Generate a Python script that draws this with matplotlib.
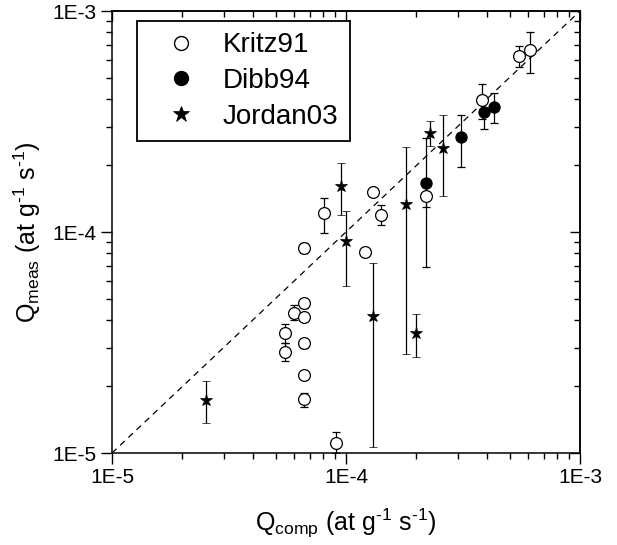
import numpy as np
import matplotlib
matplotlib.use("Agg")
import matplotlib.pyplot as plt
from matplotlib.lines import Line2D
from matplotlib.ticker import LogLocator, NullFormatter, FixedLocator, FixedFormatter

plt.rcParams['font.family'] = ['Liberation Sans', 'DejaVu Sans']
plt.rcParams['mathtext.default'] = 'regular'

# Kritz91 (open circles): Q_comp, Q_meas, lower / upper error bar ends
kritz_x = [5.50e-4, 6.11e-4, 3.80e-4, 2.20e-4, 1.30e-4, 1.41e-4, 8.05e-5, 1.20e-4,
           6.61e-5, 6.61e-5, 6.01e-5, 6.61e-5, 5.49e-5, 5.49e-5, 6.61e-5, 6.61e-5,
           6.61e-5, 9.06e-5]
kritz_y = [6.28e-4, 6.66e-4, 3.96e-4, 1.46e-4, 1.51e-4, 1.20e-4, 1.215e-4, 8.09e-5,
           8.49e-5, 4.76e-5, 4.31e-5, 4.11e-5, 3.48e-5, 2.86e-5, 3.14e-5, 2.25e-5,
           1.75e-5, 1.11e-5]
kritz_lo = [5.60e-4, 5.26e-4, 3.25e-4, 1.30e-4, 1.46e-4, 1.08e-4, 9.87e-5, 8.09e-5,
            8.00e-5, 4.55e-5, 4.00e-5, 4.11e-5, 3.15e-5, 2.61e-5, 3.00e-5, 2.25e-5,
            1.61e-5, 1.00e-5]
kritz_hi = [6.97e-4, 8.06e-4, 4.66e-4, 1.63e-4, 1.56e-4, 1.32e-4, 1.43e-4, 8.09e-5,
            8.95e-5, 4.98e-5, 4.67e-5, 4.11e-5, 3.84e-5, 3.13e-5, 3.28e-5, 2.25e-5,
            1.87e-5, 1.24e-5]

# Dibb94 (filled circles)
dibb_x = [3.89e-4, 4.29e-4, 3.10e-4, 2.20e-4]
dibb_y = [3.48e-4, 3.69e-4, 2.68e-4, 1.67e-4]
dibb_lo = [2.92e-4, 3.12e-4, 1.97e-4, 6.97e-5]
dibb_hi = [4.03e-4, 4.25e-4, 3.38e-4, 2.65e-4]

# Jordan03 (stars)
jordan_x = [2.29e-4, 2.61e-4, 1.80e-4, 2.00e-4, 1.30e-4, 9.52e-5, 1.00e-4, 2.53e-5]
jordan_y = [2.81e-4, 2.41e-4, 1.34e-4, 3.49e-5, 4.18e-5, 1.62e-4, 9.13e-5, 1.74e-5]
jordan_lo = [2.45e-4, 1.45e-4, 2.80e-5, 2.73e-5, 1.06e-5, 1.19e-4, 5.71e-5, 1.37e-5]
jordan_hi = [3.19e-4, 3.38e-4, 2.43e-4, 4.24e-5, 7.26e-5, 2.06e-4, 1.245e-4, 2.11e-5]

fig = plt.figure(figsize=(6.17, 5.45), dpi=100)
ax = fig.add_axes([0.1815, 0.1688, 0.7585, 0.811])


def yerr(y, lo, hi):
    y = np.array(y)
    return [y - np.array(lo), np.array(hi) - y]


# 1:1 line
ax.plot([1e-5, 1e-3], [1e-5, 1e-3], color='black', ls=(0, (5, 4)), lw=0.9, zorder=1)

common = dict(ls='none', ecolor='black', elinewidth=0.9, capsize=2.6, capthick=0.9,
              zorder=3)
ax.errorbar(kritz_x, kritz_y, yerr=yerr(kritz_y, kritz_lo, kritz_hi), marker='o',
            ms=8.5, mfc='white', mec='black', mew=0.9, **common)
ax.errorbar(dibb_x, dibb_y, yerr=yerr(dibb_y, dibb_lo, dibb_hi), marker='o',
            ms=8, mfc='black', mec='black', mew=0.9, **common)
ax.errorbar(jordan_x, jordan_y, yerr=yerr(jordan_y, jordan_lo, jordan_hi), marker='*',
            ms=9.5, mfc='black', mec='black', mew=0.5, **common)

ax.set_xscale('log')
ax.set_yscale('log')
ax.set_xlim(1e-5, 1e-3)
ax.set_ylim(1e-5, 1e-3)

ticks = [1e-5, 1e-4, 1e-3]
labels = ['1E-5', '1E-4', '1E-3']
for axis in (ax.xaxis, ax.yaxis):
    axis.set_major_locator(FixedLocator(ticks))
    axis.set_major_formatter(FixedFormatter(labels))
    axis.set_minor_locator(LogLocator(base=10, subs=np.arange(2, 10)))
    axis.set_minor_formatter(NullFormatter())

ax.tick_params(which='both', direction='out', labelsize=15, width=1.0, color='black')
ax.tick_params(which='major', length=8, pad=3)
ax.tick_params(which='minor', length=4.5)

# inward ticks on top and right
for side in ('top', 'right'):
    if side == 'top':
        sec = ax.secondary_xaxis('top')
        sax = sec.xaxis
    else:
        sec = ax.secondary_yaxis('right')
        sax = sec.yaxis
    sax.set_major_locator(FixedLocator(ticks))
    sax.set_major_formatter(NullFormatter())
    sax.set_minor_locator(LogLocator(base=10, subs=np.arange(2, 10)))
    sax.set_minor_formatter(NullFormatter())
    sec.tick_params(which='both', direction='in', width=1.0)
    sec.tick_params(which='major', length=7)
    sec.tick_params(which='minor', length=4)
    sec.spines[side].set_linewidth(1.1)

for s in ax.spines.values():
    s.set_linewidth(1.1)

ax.set_xlabel('Q$_{comp}$ (at g$^{\u20101}$ s$^{\u20101}$)', fontsize=18, labelpad=14)
ax.set_ylabel('Q$_{meas}$ (at g$^{\u20101}$ s$^{\u20101}$)', fontsize=18, labelpad=7)

handles = [
    Line2D([], [], ls='none', marker='o', ms=10, mfc='white', mec='black', mew=1.0),
    Line2D([], [], ls='none', marker='o', ms=10, mfc='black', mec='black', mew=1.0),
    Line2D([], [], ls='none', marker='*', ms=12, mfc='black', mec='black', mew=0.5),
]
leg = ax.legend(handles, ['Kritz91', 'Dibb94', 'Jordan03'], loc='upper left',
                bbox_to_anchor=(0.053, 0.977), fontsize=20,
                frameon=True, fancybox=False, edgecolor='black', framealpha=1,
                handletextpad=0.3, borderpad=0.4, labelspacing=0.35,
                handlelength=2.4, borderaxespad=0)
leg.get_frame().set_linewidth(1.3)

fig.savefig('out.png', dpi=100)
